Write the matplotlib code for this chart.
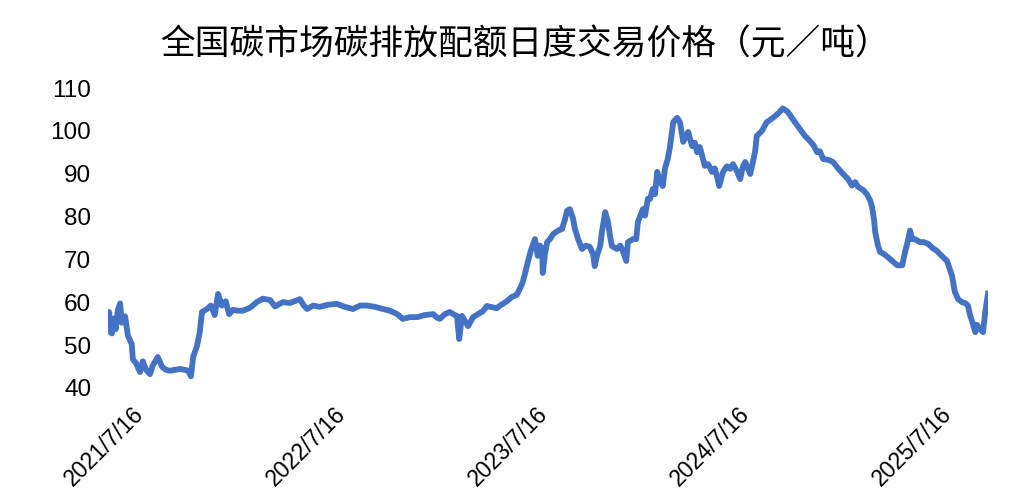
import matplotlib
matplotlib.use("Agg")
import matplotlib.pyplot as plt
import matplotlib.dates as mdates
from matplotlib.transforms import ScaledTranslation
import pandas as pd

# daily closing price of CEA
dates = [
    "2021-07-16", "2021-07-18", "2021-07-23", "2021-07-27", "2021-07-30", "2021-08-03",
    "2021-08-07", "2021-08-10", "2021-08-16", "2021-08-21", "2021-08-28", "2021-08-30",
    "2021-09-05", "2021-09-12", "2021-09-17", "2021-09-23", "2021-09-30", "2021-10-05",
    "2021-10-14", "2021-10-22", "2021-10-29", "2021-11-05", "2021-11-14", "2021-11-23",
    "2021-12-02", "2021-12-08", "2021-12-13", "2021-12-17", "2021-12-24", "2021-12-29",
    "2022-01-02", "2022-01-11", "2022-01-18", "2022-01-25", "2022-01-31", "2022-02-07",
    "2022-02-14", "2022-02-20", "2022-02-27", "2022-03-08", "2022-03-17", "2022-03-30",
    "2022-04-11", "2022-04-22", "2022-05-05", "2022-05-14", "2022-05-28", "2022-06-10",
    "2022-06-28", "2022-07-05", "2022-07-11", "2022-07-22", "2022-08-03", "2022-08-18",
    "2022-09-03", "2022-09-17", "2022-10-02", "2022-10-15", "2022-10-27", "2022-11-11",
    "2022-11-25", "2022-12-08", "2022-12-21", "2022-12-31", "2023-01-13", "2023-01-26",
    "2023-02-09", "2023-02-24", "2023-03-03", "2023-03-08", "2023-03-17", "2023-03-26",
    "2023-04-04", "2023-04-08", "2023-04-12", "2023-04-17", "2023-04-22", "2023-04-28",
    "2023-05-07", "2023-05-16", "2023-05-25", "2023-06-01", "2023-06-07", "2023-06-19",
    "2023-06-25", "2023-07-07", "2023-07-16", "2023-07-25", "2023-07-31", "2023-08-05",
    "2023-08-11", "2023-08-14", "2023-08-20", "2023-08-27", "2023-09-01", "2023-09-05",
    "2023-09-09", "2023-09-10", "2023-09-14", "2023-09-18", "2023-09-23", "2023-09-29",
    "2023-10-08", "2023-10-15", "2023-10-20", "2023-10-24", "2023-10-29", "2023-11-04",
    "2023-11-07", "2023-11-13", "2023-11-20", "2023-11-27", "2023-12-04", "2023-12-10",
    "2023-12-13", "2023-12-17", "2023-12-23", "2023-12-26", "2024-01-01", "2024-01-06",
    "2024-01-10", "2024-01-13", "2024-01-22", "2024-01-28", "2024-02-02", "2024-02-08",
    "2024-02-11", "2024-02-20", "2024-02-26", "2024-02-29", "2024-03-09", "2024-03-13",
    "2024-03-18", "2024-03-22", "2024-03-27", "2024-03-31", "2024-04-04", "2024-04-09",
    "2024-04-14", "2024-04-18", "2024-04-23", "2024-04-27", "2024-05-03", "2024-05-10",
    "2024-05-15", "2024-05-21", "2024-05-30", "2024-06-06", "2024-06-11", "2024-06-15",
    "2024-06-20", "2024-06-26", "2024-06-29", "2024-07-05", "2024-07-12", "2024-07-17",
    "2024-07-21", "2024-07-25", "2024-08-01", "2024-08-08", "2024-08-14", "2024-08-19",
    "2024-08-26", "2024-09-01", "2024-09-06", "2024-09-10", "2024-09-15", "2024-09-19",
    "2024-09-24", "2024-09-28", "2024-10-01", "2024-10-10", "2024-10-19", "2024-10-27",
    "2024-11-03", "2024-11-10", "2024-11-17", "2024-11-26", "2024-12-05", "2024-12-15",
    "2024-12-22", "2024-12-27", "2025-01-05", "2025-01-11", "2025-01-18", "2025-01-23",
    "2025-01-29", "2025-02-07", "2025-02-16", "2025-02-25", "2025-03-06", "2025-03-15",
    "2025-03-22", "2025-03-28", "2025-04-02", "2025-04-11", "2025-04-18", "2025-04-24",
    "2025-04-27", "2025-05-01", "2025-05-03", "2025-05-08", "2025-05-12", "2025-05-19",
    "2025-05-26", "2025-06-02", "2025-06-12", "2025-06-21", "2025-06-26", "2025-06-30",
    "2025-07-05", "2025-07-09", "2025-07-14", "2025-07-23", "2025-07-30", "2025-08-07",
    "2025-08-14", "2025-08-23", "2025-09-01", "2025-09-10", "2025-09-15", "2025-09-19",
    "2025-09-24", "2025-09-30", "2025-10-07", "2025-10-14", "2025-10-18", "2025-10-21",
    "2025-10-25", "2025-10-31", "2025-11-03", "2025-11-09", "2025-11-14", "2025-11-18",
    "2025-11-23",
]
prices = [
    53.0, 57.5, 52.5, 56.0, 53.5, 58.0,
    59.5, 55.0, 56.5, 52.0, 50.0, 46.5,
    45.5, 43.5, 46.0, 44.0, 43.0, 45.0,
    47.0, 44.7, 44.0, 43.8, 44.0, 44.2,
    44.0, 43.8, 42.5, 47.0, 49.6, 52.8,
    57.5, 58.2, 59.0, 56.8, 61.7, 59.0,
    60.0, 57.0, 58.0, 57.8, 57.8, 58.5,
    59.8, 60.6, 60.3, 58.8, 59.8, 59.6,
    60.5, 59.0, 58.2, 59.0, 58.7, 59.2,
    59.4, 58.7, 58.2, 59.0, 59.0, 58.7,
    58.2, 57.8, 57.0, 55.9, 56.3, 56.3,
    56.8, 57.0, 56.2, 55.9, 57.0, 57.5,
    56.8, 56.6, 51.2, 56.6, 55.5, 54.2,
    56.3, 57.0, 57.7, 58.9, 58.7, 58.4,
    59.0, 60.0, 61.0, 61.5, 63.0, 64.5,
    67.5, 69.2, 72.0, 74.5, 70.6, 73.0,
    72.2, 66.6, 71.0, 73.8, 74.5, 75.7,
    76.5, 76.9, 79.0, 81.1, 81.5, 79.2,
    77.0, 74.5, 72.2, 73.0, 72.7, 71.0,
    68.2, 70.6, 73.0, 76.2, 80.8, 78.5,
    75.0, 72.9, 72.2, 73.0, 71.7, 69.4,
    73.8, 74.5, 74.5, 78.5, 81.5, 80.0,
    83.9, 83.9, 86.2, 85.0, 90.2, 88.0,
    86.9, 91.0, 93.2, 96.0, 101.8, 102.8,
    101.8, 97.2, 99.5, 96.2, 97.0, 94.8,
    96.0, 93.0, 91.6, 92.0, 90.2, 91.0,
    89.2, 86.9, 90.2, 91.5, 90.9, 92.0,
    90.4, 88.5, 91.5, 92.5, 91.0, 89.7,
    92.5, 95.0, 98.6, 99.7, 101.8, 102.5,
    103.2, 104.0, 105.0, 104.2, 102.5, 100.7,
    99.5, 98.6, 97.4, 96.5, 94.8, 95.0,
    93.2, 93.0, 92.5, 91.0, 89.7, 88.5,
    87.0, 87.8, 86.7, 86.0, 85.0, 83.5,
    82.2, 79.0, 76.2, 73.0, 71.5, 71.0,
    70.3, 69.5, 68.4, 68.4, 71.5, 73.5,
    76.5, 74.5, 74.5, 73.8, 73.8, 73.4,
    72.5, 71.7, 70.5, 69.4, 67.5, 65.9,
    62.2, 60.5, 59.8, 59.5, 58.9, 57.0,
    55.4, 52.8, 54.5, 53.5, 52.8, 57.5,
    61.8,
]
tick_dates = ["2021-07-16", "2022-07-16", "2023-07-16", "2024-07-16", "2025-07-16"]
tick_labels = ["2021/7/16", "2022/7/16", "2023/7/16", "2024/7/16", "2025/7/16"]
y_ticks = [40, 50, 60, 70, 80, 90, 100, 110]

title = "全国碳市场碳排放配额日度交易价格（元／吨）"

x = pd.to_datetime(dates)

fig = plt.figure(figsize=(10.35, 5.02), dpi=100)
ax = fig.add_axes([0.1043, 0.2271, 0.8503, 0.5976])
ax.plot(x, prices, color="#4472C4", linewidth=4.2)

ax.set_xlim(x[0], x[-1])
ax.set_ylim(40, 110)
ax.set_yticks(y_ticks)
ax.set_yticklabels([str(v) for v in y_ticks], family="Liberation Sans", fontsize=17.5)
ax.set_xticks(pd.to_datetime(tick_dates))
ax.set_xticklabels(tick_labels, family="Liberation Sans", fontsize=16.5,
                   rotation=45, ha="right", va="center", rotation_mode="anchor")
ax.tick_params(axis="both", length=0)
ax.tick_params(axis="y", pad=12)
for s in ax.spines.values():
    s.set_visible(False)

# shift rotated date labels like the source
off = ScaledTranslation(32 / 100, -18 / 100, fig.dpi_scale_trans)
for lab in ax.get_xticklabels():
    lab.set_transform(lab.get_transform() + off)

fig.text(0.507, 0.91, title, ha="center", va="center", fontsize=25,
         family=["Noto Sans CJK SC", "DejaVu Sans"])

fig.savefig("out.png", dpi=100)
